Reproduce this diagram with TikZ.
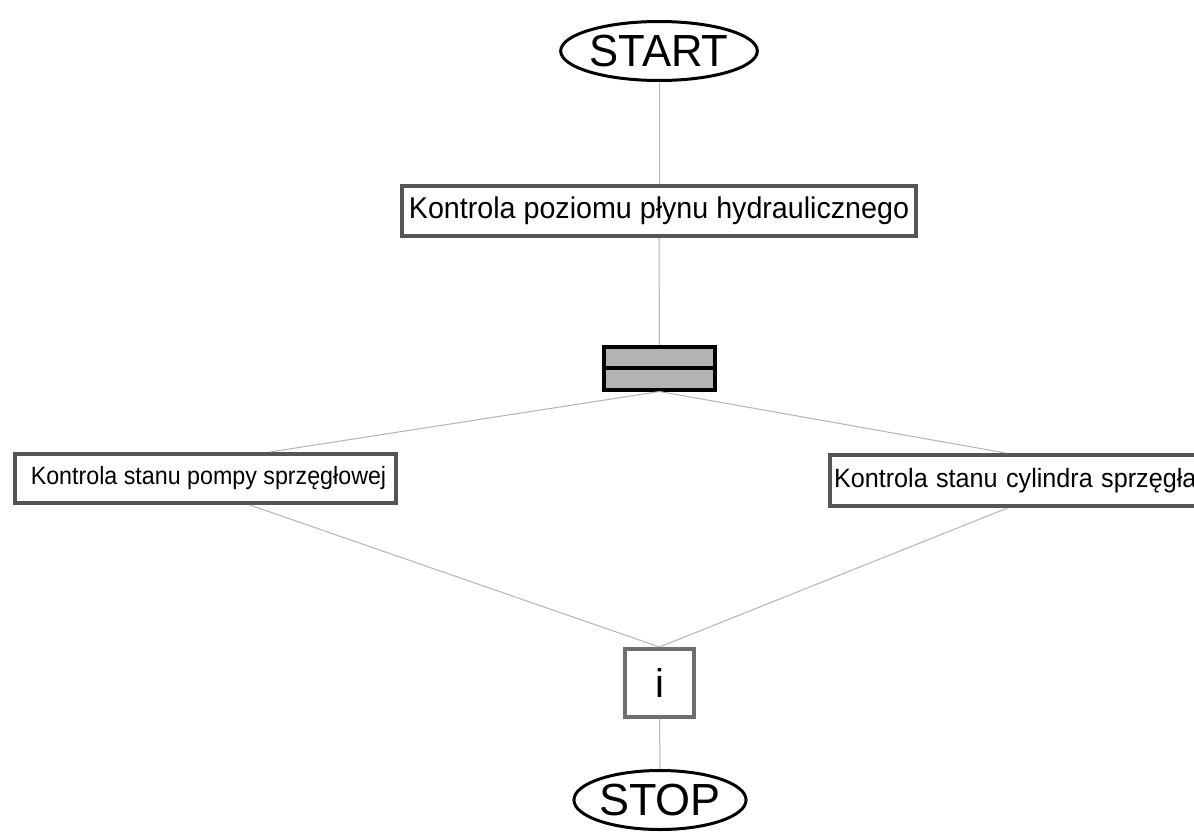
\documentclass[tikz,border=0pt]{standalone}
\usepackage{fontspec}
\usepackage{graphicx}
\setmainfont{Liberation Sans}
\usetikzlibrary{calc,shapes.geometric}
\definecolor{boxedge}{HTML}{555555}
\definecolor{wirecol}{HTML}{B4B4B4}
\definecolor{barfill}{HTML}{B3B3B3}
% horizontally condensed label text
\newcommand{\narrowtext}[2]{\scalebox{#1}[1]{#2}}
\begin{document}
\begin{tikzpicture}[x=1pt,y=-1pt,
  terminal/.style={ellipse, draw=black, line width=3pt, inner sep=0pt,
    minimum width=166pt, minimum height=59pt, font=\fontsize{45}{48}\selectfont},
  task/.style={rectangle, draw=boxedge, line width=4pt, fill=white, inner sep=0pt},
  wire/.style={draw=wirecol, line width=1pt}]
\useasboundingbox (0,0) rectangle (1194,835);
\fill[white] (0,0) rectangle (1194,835);

% nodes
\node[terminal] (start) at (659,51) {\narrowtext{0.97}{START}};
\node[task, minimum width=514pt, minimum height=50pt,
  font=\fontsize{30}{34}\selectfont] (level) at (659,211)
  {\narrowtext{0.955}{Kontrola poziomu płynu hydraulicznego}};
\node[draw=black, fill=barfill, line width=4pt, minimum width=111pt,
  minimum height=43pt, inner sep=0pt] (fork) at (659.5,368) {};
\draw[black, line width=4pt] (fork.west) -- (fork.east);
\node[task, minimum width=381pt, minimum height=49pt,
  font=\fontsize{25}{30}\selectfont] (pump) at (205.5,478.5)
  {\hspace{6pt}\narrowtext{0.93}{Kontrola stanu pompy sprzęgłowej}};
\node[task, anchor=west, text width=370pt, align=left, inner xsep=4pt,
  minimum height=51pt, font=\fontsize{26.5}{30}\selectfont] (cyl) at (828,480.5)
  {\narrowtext{0.95}{Kontrola stanu cylindra sprzęgła}};
\node[task, draw=boxedge!85!white, minimum width=69pt, minimum height=68pt,
  font=\fontsize{40}{44}\selectfont] (join) at (659.5,683) {i};
\node[terminal] (stop) at (660,800) {STOP};

% connectors
\draw[wire] (start.south) -- (level.north);
\draw[wire] (level.south) -- (fork.north);
\draw[wire] (fork.south) -- ($(pump.north west)!0.667!(pump.north east)$);
\draw[wire] (fork.south) -- ($(cyl.north west)!0.465!(cyl.north east)$);
\draw[wire] ($(pump.south west)!0.615!(pump.south east)$) -- (join.north);
\draw[wire] ($(cyl.south west)!0.47!(cyl.south east)$) -- (join.north);
\draw[wire] (join.south) -- (stop.north);
\end{tikzpicture}
\end{document}
